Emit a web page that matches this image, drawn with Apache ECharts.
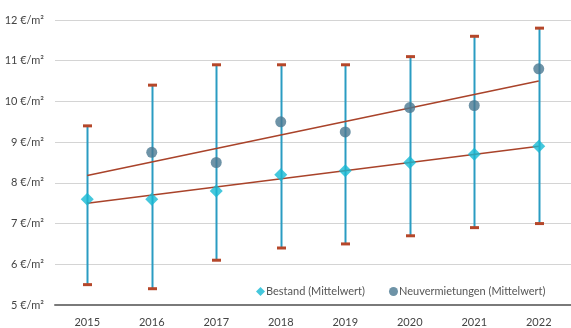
<!DOCTYPE html>
<html>
<head>
<meta charset="utf-8">
<script src="https://cdn.jsdelivr.net/npm/echarts@6/dist/echarts.min.js"></script>
<style>
  html, body { margin: 0; padding: 0; background: #fff; }
  #chart { width: 571px; height: 328px; }
</style>
</head>
<body>
<div id="chart"></div>
<script>
// Mietpreise je m² – Mittelwerte mit Spannweite (Min/Max) und Trendlinien
const years = ['2015', '2016', '2017', '2018', '2019', '2020', '2021', '2022'];
const bestand = [7.6, 7.6, 7.8, 8.2, 8.3, 8.5, 8.7, 8.9];
const neuvermietungen = [null, 8.75, 8.5, 9.5, 9.25, 9.85, 9.9, 10.8];
const rangeLow = [5.5, 5.4, 6.1, 6.4, 6.5, 6.7, 6.9, 7.0];
const rangeHigh = [9.4, 10.4, 10.9, 10.9, 10.9, 11.1, 11.6, 11.8];
// Trendlinien: Werte am Anfang (2015) und Ende (2022)
const trendBestand = [7.5, 8.9];
const trendNeu = [8.18, 10.5];

const FONT = 'Lato';
const barColor = '#2a9cc2';
const capColor = '#b5472a';
const trendColor = '#a9432a';

function trendData(ends) {
  return years.map((y, i) => i === 0 ? ends[0] : (i === years.length - 1 ? ends[1] : '-'));
}

const chart = echarts.init(document.getElementById('chart'), null, { renderer: 'canvas' });

chart.setOption({
  animation: false,
  textStyle: { fontFamily: FONT },
  grid: { left: 55, top: 20, width: 520, height: 287 },
  legend: {
    left: 251,
    top: 281,
    itemGap: 24,
    itemWidth: 9,
    itemHeight: 9,
    textStyle: { fontFamily: FONT, fontSize: 11, color: '#555', padding: [0, 0, 0, -4] },
    data: [
      { name: 'Bestand (Mittelwert)', icon: 'diamond' },
      { name: 'Neuvermietungen (Mittelwert)', icon: 'circle' }
    ]
  },
  xAxis: {
    type: 'category',
    data: years,
    boundaryGap: true,
    axisLine: { show: true, lineStyle: { color: '#7a7a7a', width: 2 } },
    axisTick: { show: false },
    axisLabel: { color: '#444', fontSize: 11, margin: 12, fontFamily: FONT }
  },
  yAxis: {
    type: 'value',
    min: 5,
    max: 12,
    interval: 1,
    axisLine: { show: false },
    axisTick: { show: false },
    axisLabel: {
      color: '#444', fontSize: 11, margin: 11, fontFamily: FONT,
      formatter: v => v + ' €/m²'
    },
    splitLine: { lineStyle: { color: '#d4d4d4', width: 1 } }
  },
  series: [
    {
      name: 'Spannweite',
      type: 'custom',
      z: 2,
      data: years.map((y, i) => [i, rangeLow[i], rangeHigh[i]]),
      renderItem: function (params, api) {
        const lo = api.coord([api.value(0), api.value(1)]);
        const hi = api.coord([api.value(0), api.value(2)]);
        const x = Math.round(lo[0]) + 0.5;
        const capW = 9;
        return {
          type: 'group',
          children: [
            { type: 'line', shape: { x1: x, y1: hi[1], x2: x, y2: lo[1] },
              style: { stroke: barColor, lineWidth: 2 } },
            { type: 'line', shape: { x1: x - capW / 2, y1: hi[1], x2: x + capW / 2, y2: hi[1] },
              style: { stroke: capColor, lineWidth: 3 } },
            { type: 'line', shape: { x1: x - capW / 2, y1: lo[1], x2: x + capW / 2, y2: lo[1] },
              style: { stroke: capColor, lineWidth: 3 } }
          ]
        };
      }
    },
    {
      name: 'Trend Bestand',
      type: 'line',
      z: 3,
      data: trendData(trendBestand),
      connectNulls: true,
      symbol: 'none',
      lineStyle: { color: trendColor, width: 1.6 },
      silent: true
    },
    {
      name: 'Trend Neuvermietungen',
      type: 'line',
      z: 3,
      data: trendData(trendNeu),
      connectNulls: true,
      symbol: 'none',
      lineStyle: { color: trendColor, width: 1.6 },
      silent: true
    },
    {
      name: 'Bestand (Mittelwert)',
      type: 'scatter',
      z: 4,
      symbol: 'diamond',
      symbolSize: 13,
      itemStyle: { color: '#17b9d3' },
      data: bestand
    },
    {
      name: 'Neuvermietungen (Mittelwert)',
      type: 'scatter',
      z: 4,
      symbol: 'circle',
      symbolSize: 11,
      itemStyle: { color: '#4a7891' },
      data: neuvermietungen.map(v => v === null ? '-' : v)
    }
  ]
});
</script>
</body>
</html>
